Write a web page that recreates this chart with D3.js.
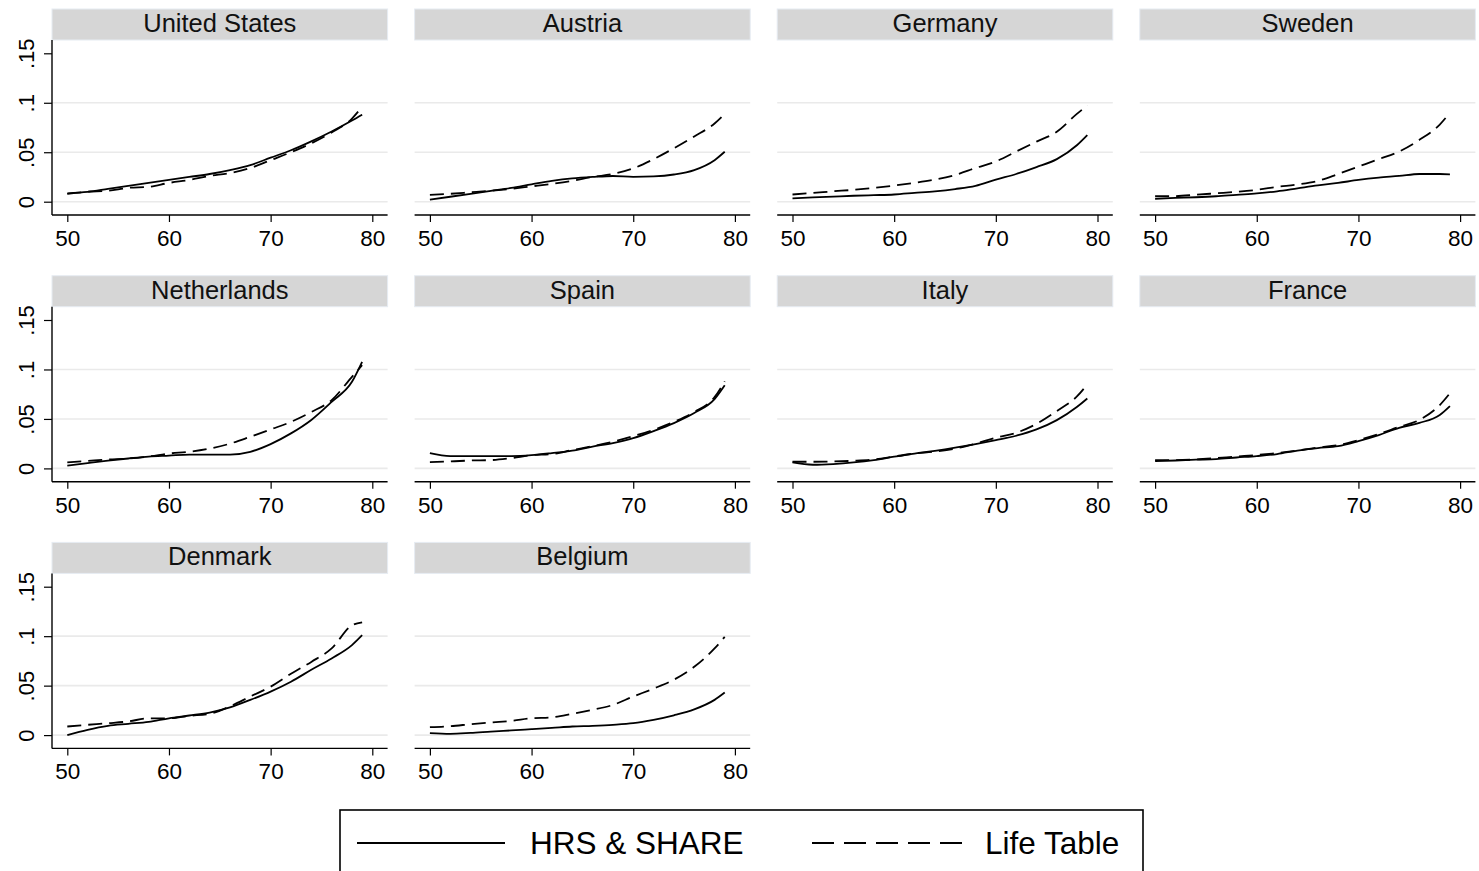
<!DOCTYPE html>
<html>
<head>
<meta charset="utf-8">
<script src="https://cdn.jsdelivr.net/npm/d3@7"></script>
<style>
  html, body { margin: 0; padding: 0; background: #fff; }
  svg { display: block; font-family: "Liberation Sans", Arial, Helvetica, sans-serif; }
</style>
</head>
<body>
<svg id="chart" width="1479" height="871"></svg>
<script>
// Ages at which each curve is sampled
const ages = [50, 52, 54, 56, 58, 60, 62, 64, 66, 68, 70, 72, 74, 76, 78, 79];

const countries = ["United States", "Austria", "Germany", "Sweden", "Netherlands",
                   "Spain", "Italy", "France", "Denmark", "Belgium"];

// HRS & SHARE estimates (solid lines)
const hrsUnitedStates = [.0085, .010, .013, .016, .019, .022, .025, .028, .032, .037, .0445, .052, .061, .071, .082, .088];
const hrsAustria      = [.002, .005, .008, .011, .014, .0176, .021, .0235, .025, .026, .025, .0255, .0275, .032, .042, .0505];
const hrsGermany      = [.0033, .0043, .0052, .006, .0066, .0073, .0089, .0105, .0128, .016, .0223, .028, .035, .043, .0573, .0673];
const hrsSweden       = [.003, .0038, .0045, .0055, .007, .0084, .0105, .0135, .0165, .019, .022, .0243, .026, .028, .028, .0277];
const hrsNetherlands  = [.0027, .0053, .0078, .010, .012, .013, .014, .014, .014, .0168, .0246, .0354, .049, .0673, .0875, .1077];
const hrsSpain        = [.0155, .0125, .0125, .0125, .0125, .0134, .0155, .018, .022, .0256, .0306, .0377, .0458, .056, .070, .084];
const hrsItaly        = [.006, .0037, .0044, .006, .0084, .0118, .015, .0178, .021, .0246, .0286, .033, .0394, .0488, .0623, .0707];
const hrsFrance       = [.0074, .008, .0088, .0094, .011, .0125, .0145, .018, .0205, .0225, .0276, .0337, .041, .046, .054, .063];
const hrsDenmark      = [.000, .0054, .0094, .0114, .0134, .017, .0198, .0228, .028, .0356, .044, .054, .066, .0775, .091, .101];
const hrsBelgium      = [.002, .0013, .0022, .0035, .0047, .006, .0073, .0087, .0094, .0104, .012, .0154, .020, .026, .0356, .043];

// Life table mortality (dashed lines)
const lifeUnitedStates = [.008, .010, .011, .014, .015, .019, .022, .026, .029, .034, .042, .050, .059, .070, .084, .096];
const lifeAustria      = [.0068, .008, .0095, .011, .013, .0155, .018, .021, .025, .028, .0337, .043, .054, .066, .079, .0887];
const lifeGermany      = [.0073, .0088, .0105, .012, .014, .0163, .019, .0223, .027, .034, .0407, .0507, .0607, .0707, .089, .0973];
const lifeSweden       = [.0057, .0057, .007, .0085, .010, .012, .015, .0175, .021, .028, .0355, .043, .0507, .0625, .078, .090];
const lifeNetherlands  = [.006, .0075, .009, .010, .012, .015, .0168, .020, .025, .032, .0394, .047, .057, .069, .0926, .1044];
const lifeSpain        = [.0064, .007, .008, .0084, .0104, .0134, .0145, .0185, .0225, .027, .0326, .039, .047, .057, .072, .088];
const lifeItaly        = [.0067, .0067, .0070, .0077, .009, .012, .015, .017, .020, .025, .031, .036, .045, .058, .073, .085];
const lifeFrance       = [.0084, .0084, .0090, .0104, .012, .0135, .0155, .018, .021, .0235, .0286, .0347, .042, .049, .064, .076];
const lifeDenmark      = [.0087, .0104, .012, .0138, .017, .017, .0195, .0215, .029, .039, .049, .062, .074, .0876, .111, .114];
const lifeBelgium      = [.008, .009, .011, .0128, .0144, .017, .018, .0215, .0255, .0305, .039, .047, .056, .069, .0876, .0993];

const xTicks = [50, 60, 70, 80];
const yTicks = [0, 0.05, 0.1, 0.15];
const yTickLabels = ["0", ".05", ".1", ".15"];
const gridValues = [0, 0.05, 0.1];

const legendLabels = ["HRS & SHARE", "Life Table"];

const hrsSeries = [hrsUnitedStates, hrsAustria, hrsGermany, hrsSweden, hrsNetherlands,
                   hrsSpain, hrsItaly, hrsFrance, hrsDenmark, hrsBelgium];
const lifeSeries = [lifeUnitedStates, lifeAustria, lifeGermany, lifeSweden, lifeNetherlands,
                    lifeSpain, lifeItaly, lifeFrance, lifeDenmark, lifeBelgium];

const panels = countries.map((name, i) => ({
  name,
  hrs: ages.map((a, k) => ({ age: a, v: hrsSeries[i][k] })),
  life: ages.map((a, k) => ({ age: a, v: lifeSeries[i][k] }))
}));

// Layout of the small-multiple grid
const colStep = 362.6, rowStep = 266.7;
const panelLeft = 52, panelWidth = 335.6;
const headerTop = 9, headerH = 31;
const axisY = 215;            // x axis line, relative to row top
const plotTop = headerTop + headerH;

const svg = d3.select("#chart");

panels.forEach((p, i) => {
  const c = i % 4, r = Math.floor(i / 4);
  const g = svg.append("g")
    .attr("transform", `translate(${panelLeft + c * colStep},${r * rowStep})`);

  const x = d3.scaleLinear().domain([50, 80]).range([15.3, 320.3]);
  const y = d3.scaleLinear().domain([0, 0.15]).range([201.7, 53.3]);

  // header strip
  g.append("rect")
    .attr("x", 0).attr("y", headerTop)
    .attr("width", panelWidth).attr("height", headerH)
    .attr("fill", "#d6d6d6").attr("stroke", "#e6ecf2").attr("stroke-width", 1);
  g.append("text")
    .attr("x", panelWidth / 2).attr("y", headerTop + 23)
    .attr("text-anchor", "middle")
    .attr("font-size", 25.5).attr("fill", "#111")
    .text(p.name);

  // gridlines
  g.selectAll("line.grid").data(gridValues).join("line")
    .attr("class", "grid")
    .attr("x1", 0).attr("x2", panelWidth)
    .attr("y1", d => y(d)).attr("y2", d => y(d))
    .attr("stroke", "#eaeaea").attr("stroke-width", 1.6);

  // x axis
  const xa = g.append("g")
    .attr("transform", `translate(0,${axisY})`)
    .call(d3.axisBottom(x).tickValues(xTicks).tickSize(7).tickFormat(d3.format("d")));
  xa.select(".domain").attr("d", `M0,0H${panelWidth}`).attr("stroke", "#000").attr("stroke-width", 1.4);
  xa.selectAll(".tick line").attr("stroke", "#000").attr("stroke-width", 1.2);
  xa.selectAll(".tick text")
    .attr("y", 31).attr("dy", 0)
    .attr("font-size", 22.5).attr("fill", "#000")
    .attr("font-family", "Liberation Sans, Arial, sans-serif");

  // y axis only on the first column
  if (c === 0) {
    const ya = g.append("g")
      .call(d3.axisLeft(y).tickValues(yTicks).tickSize(8).tickFormat((d, k) => yTickLabels[k]));
    ya.select(".domain").attr("d", `M0,${plotTop}V${axisY}`).attr("stroke", "#000").attr("stroke-width", 1.4);
    ya.selectAll(".tick line").attr("stroke", "#000").attr("stroke-width", 1.2);
    ya.selectAll(".tick text")
      .attr("x", 0).attr("dy", 0)
      .attr("transform", "translate(-18,0) rotate(-90)")
      .attr("text-anchor", "middle")
      .attr("font-size", 22).attr("fill", "#000")
      .attr("font-family", "Liberation Sans, Arial, sans-serif");
  }

  const line = d3.line()
    .x(d => x(d.age)).y(d => y(d.v))
    .curve(d3.curveMonotoneX);

  g.append("path").datum(p.life)
    .attr("d", line).attr("fill", "none")
    .attr("stroke", "#000").attr("stroke-width", 1.8)
    .attr("stroke-dasharray", "14,7");
  g.append("path").datum(p.hrs)
    .attr("d", line).attr("fill", "none")
    .attr("stroke", "#000").attr("stroke-width", 1.8);
});

// Legend
const lg = svg.append("g");
lg.append("rect")
  .attr("x", 340).attr("y", 810).attr("width", 803).attr("height", 100)
  .attr("fill", "#fff").attr("stroke", "#000").attr("stroke-width", 1.6);
lg.append("line")
  .attr("x1", 357).attr("x2", 505).attr("y1", 843).attr("y2", 843)
  .attr("stroke", "#000").attr("stroke-width", 2);
lg.append("text")
  .attr("x", 530).attr("y", 854)
  .attr("font-size", 31.5).attr("fill", "#000")
  .text(legendLabels[0]);
lg.append("line")
  .attr("x1", 812).attr("x2", 962).attr("y1", 843).attr("y2", 843)
  .attr("stroke", "#000").attr("stroke-width", 2)
  .attr("stroke-dasharray", "22,10");
lg.append("text")
  .attr("x", 985).attr("y", 854)
  .attr("font-size", 31.5).attr("fill", "#000")
  .text(legendLabels[1]);
</script>
</body>
</html>
